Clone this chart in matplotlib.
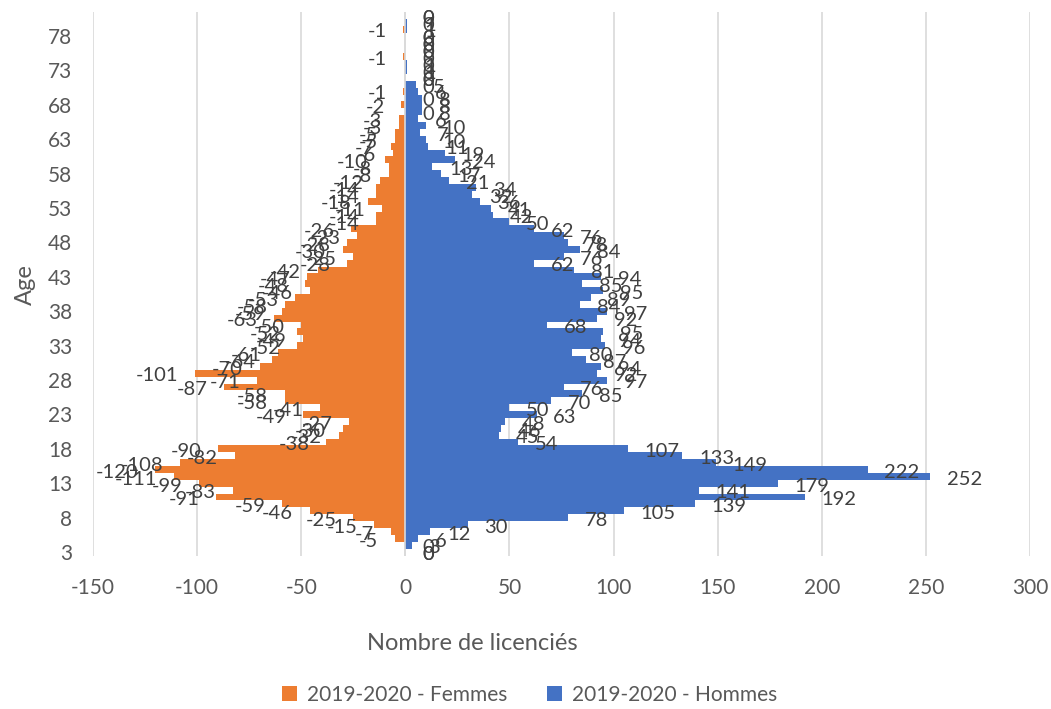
import numpy as np
import matplotlib
matplotlib.use("Agg")
import matplotlib.pyplot as plt

ages = list(range(3, 82))
femmes = [0, 0, -5, -7, -15, -25, -46, -59, -91, -83,
          -99, -111, -120, -108, -82, -90, -38, -32, -30, -27,
          -49, -41, -58, -58, -87, -71, -101, -70, -64, -61,
          -52, -49, -52, -50, -63, -59, -58, -53, -46, -48,
          -47, -42, -28, -25, -30, -28, -23, -26, -14, -14,
          -11, -18, -14, -14, -12, -8, -8, -10, -6, -7,
          -5, -5, -3, -3, 0, -2, 0, -1, 0, 0,
          0, 0, -1, 0, 0, 0, -1, 0, 0]
hommes = [0, 3, 6, 12, 30, 78, 105, 139, 192, 141,
          179, 252, 222, 149, 133, 107, 54, 45, 46, 48,
          63, 50, 70, 85, 76, 97, 92, 94, 87, 80,
          96, 94, 95, 68, 92, 97, 84, 89, 95, 85,
          94, 81, 62, 76, 84, 78, 76, 62, 50, 42,
          41, 36, 32, 34, 21, 17, 13, 24, 19, 11,
          10, 7, 10, 6, 8, 8, 8, 6, 5, 0,
          1, 1, 0, 0, 0, 0, 1, 1, 0]
xticks = [-150, -100, -50, 0, 50, 100, 150, 200, 250, 300]
ytick_ages = list(range(3, 79, 5))
series_names = ["2019-2020 - Femmes", "2019-2020 - Hommes"]

FONT = ["Lato", "DejaVu Sans"]
plt.rcParams['font.family'] = FONT
ORANGE = "#ED7D31"
BLUE = "#4472C4"
GRID = "#D9D9D9"
TXT = "#595959"
LBL = "#404040"

W, H = 1051, 709
fig = plt.figure(figsize=(W / 100, H / 100), dpi=100)
left, right, top, bottom = 93, 1030, 12, 555.5
ax = fig.add_axes([left / W, 1 - bottom / H, (right - left) / W, (bottom - top) / H])

y = np.arange(len(ages))
ax.barh(y, femmes, height=1.0, color=ORANGE, label=series_names[0], zorder=2)
ax.barh(y, hommes, height=1.0, color=BLUE, label=series_names[1], zorder=2)
ax.axvline(0, color=GRID, lw=1.2, zorder=3)

ax.set_xlim(-150, 300)
ax.set_ylim(-0.5, len(ages) - 0.5)
ax.set_xticks(xticks)
ax.set_xticklabels([str(v) for v in xticks])
ax.set_yticks([ages.index(a) for a in ytick_ages])
ax.set_yticklabels([str(a) for a in ytick_ages])
ax.xaxis.grid(True, color=GRID, lw=1.2, zorder=0)
ax.set_axisbelow(True)
for s in ax.spines.values():
    s.set_visible(False)
ax.tick_params(axis='x', length=0, pad=16, labelsize=15, labelcolor=TXT)
ax.tick_params(axis='y', length=0, pad=15, labelsize=15, labelcolor=TXT)

fig.text(472 / W, 1 - 643 / H, "Nombre de licenciés", fontsize=17, color=TXT,
         ha='center', va='center')
fig.text(25 / W, 1 - 285 / H, "Age", fontsize=17, color=TXT, rotation=90,
         ha='center', va='center')

for i, (f, m) in enumerate(zip(femmes, hommes)):
    ax.annotate(str(m), (m, i), xytext=(12, -2), textcoords='offset points',
                ha='left', va='center', fontsize=14.5, color=LBL, zorder=5)
    if f < 0:
        ax.annotate(str(f), (f, i), xytext=(-12, -2), textcoords='offset points',
                    ha='right', va='center', fontsize=14.5, color=LBL, zorder=5)
    else:
        ax.annotate(str(f), (0, i), xytext=(12, -2), textcoords='offset points',
                    ha='left', va='center', fontsize=14.5, color=LBL, zorder=5)

fig.legend(loc='center', bbox_to_anchor=(530 / W, 1 - 695 / H), ncol=2, frameon=False,
           handlelength=0.7, handleheight=0.7, columnspacing=1.9, handletextpad=0.5,
           fontsize=15, labelcolor=TXT)

fig.savefig("out.png", dpi=100)
